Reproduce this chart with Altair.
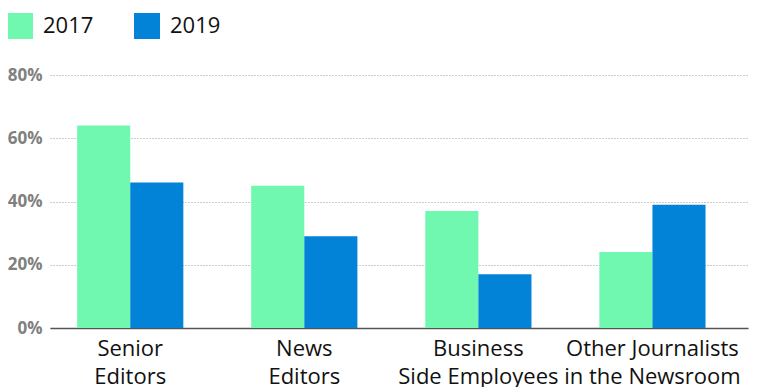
import altair as alt
import pandas as pd

categories = ["Senior Editors", "News Editors", "Business Side Employees", "Other Journalists in the Newsroom"]
label_lines = [["Senior", "Editors"], ["News", "Editors"], ["Business", "Side Employees"], ["Other Journalists", "in the Newsroom"]]
years = ["2017", "2019"]
values_2017 = [64, 45, 37, 24]
values_2019 = [46, 29, 17, 39]
colors = ["#70F8B1", "#0383D7"]

rows = []
for c, a, b in zip(categories, values_2017, values_2019):
    rows.append({"category": c, "year": "2017", "value": a})
    rows.append({"category": c, "year": "2019", "value": b})
df = pd.DataFrame(rows)

label_map = "{" + ",".join(
    "'%s':[%s]" % (c, ",".join("'%s'" % s for s in lines)) for c, lines in zip(categories, label_lines)
) + "}"

FONT = "Open Sans"

chart = alt.Chart(df).mark_bar().encode(
    x=alt.X("category:N", sort=categories, title=None,
            scale=alt.Scale(paddingInner=0.39, paddingOuter=0.2, align=0.39),
            axis=alt.Axis(labelExpr=label_map + "[datum.label]", labelAngle=0,
                          labelFontSize=22, labelColor="#111", labelFont=FONT,
                          labelLineHeight=28, labelPadding=10, labelBaseline="top",
                          labelOverlap=False, labelBound=False, labelLimit=0,
                          ticks=False, domain=True, domainColor="#555", domainWidth=1.5,
                          grid=False)),
    xOffset=alt.XOffset("year:N", sort=years),
    y=alt.Y("value:Q", title=None,
            scale=alt.Scale(domain=[0, 80]),
            axis=alt.Axis(values=[0, 20, 40, 60, 80], labelExpr="datum.value + '%'",
                          labelFontSize=17, labelFontWeight="bold", labelColor="#808080",
                          labelFont=FONT, labelPadding=8, ticks=False, domain=False,
                          grid=True, gridColor="#999", gridDash=[1, 2], gridWidth=1)),
    color=alt.Color("year:N", sort=years,
                    scale=alt.Scale(domain=years, range=colors),
                    legend=alt.Legend(title=None, orient="none", legendX=-43, legendY=-62,
                                      direction="horizontal", symbolType="square",
                                      symbolSize=676, symbolStrokeWidth=0,
                                      labelFontSize=22, labelFont=FONT, labelColor="#111",
                                      labelOffset=10, columnPadding=40)),
).properties(
    width=698, height=253,
    autosize=alt.AutoSizeParams(type="none"),
    padding={"left": 42, "top": 67, "right": 7, "bottom": 59},
).configure_view(stroke=None)

chart.save("out.html", embed_options={"renderer": "svg", "actions": False})
